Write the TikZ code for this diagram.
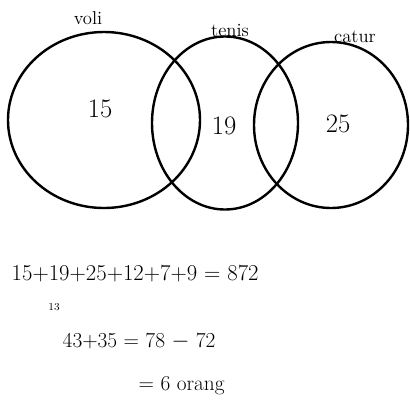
\documentclass[tikz,border=0pt]{standalone}
\usepackage{tikz}
\usetikzlibrary{shapes.geometric}

\tikzset{
  setring/.style={draw, ellipse, line width=1.8pt, inner sep=0pt},
  setname/.style={font=\fontsize{14}{16}\selectfont},
  setcount/.style={font=\fontsize{20}{22}\selectfont},
  calcline/.style={font=\fontsize{17}{19}\selectfont, anchor=west},
}

\begin{document}
\begin{tikzpicture}[x=0.75pt, y=-0.75pt]
  \useasboundingbox (0,0) rectangle (410,404);
  % the three sets
  \node[setring, minimum width=192*0.75pt, minimum height=176*0.75pt] (voli) at (104,120) {};
  \node[setring, minimum width=146*0.75pt, minimum height=173*0.75pt] (tenis) at (225,123) {};
  \node[setring, minimum width=154*0.75pt, minimum height=166*0.75pt] (catur) at (331,125) {};
  % set names above the rings
  \node[setname] (voliname) at (88,18) {voli};
  \node[setname] (tenisname) at (230,30) {tenis};
  \node[setname] (caturname) at (355,37) {catur};
  % counts inside the rings
  \node[setcount] (volicount) at (100,109) {15};
  \node[setcount] (teniscount) at (224,126) {19};
  \node[setcount] (caturcount) at (338,124) {25};
  % working below
  \node[calcline] (sumline) at (7,274) {15+19+25+12+7+9 = 872};
  \node[font=\fontsize{8}{9}\selectfont] (note) at (54,307) {13};
  \node[calcline, font=\fontsize{16}{18}\selectfont] (diffline) at (58,341) {43+35 = 78 $-$ 72};
  \node[calcline, font=\fontsize{16}{18}\selectfont] (result) at (134,386) {= 6 orang};
\end{tikzpicture}
\end{document}
